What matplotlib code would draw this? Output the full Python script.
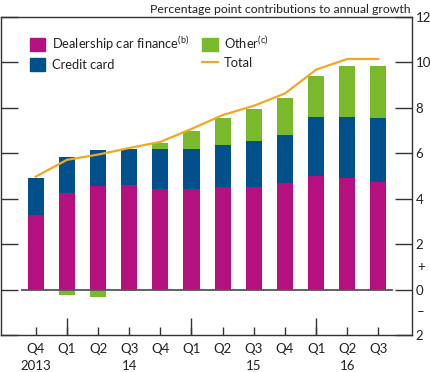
"""Consumer credit growth contributions: stacked bars with total line"""

import matplotlib
matplotlib.use("Agg")
import matplotlib.pyplot as plt
from matplotlib.patches import Patch
from matplotlib.lines import Line2D

quarters = ["Q4", "Q1", "Q2", "Q3", "Q4", "Q1", "Q2", "Q3", "Q4", "Q1", "Q2", "Q3"]
years = {0: "2013", 3: "14", 7: "15", 10: "16"}

dealership = [3.29, 4.25, 4.57, 4.60, 4.43, 4.43, 4.50, 4.50, 4.68, 4.99, 4.90, 4.72]
credit_card = [1.63, 1.59, 1.56, 1.60, 1.74, 1.74, 1.88, 2.04, 2.12, 2.59, 2.68, 2.85]
other = [0.0, -0.25, -0.32, -0.08, 0.30, 0.79, 1.19, 1.39, 1.63, 1.81, 2.25, 2.29]
total = [4.97, 5.71, 5.94, 6.23, 6.50, 7.07, 7.68, 8.09, 8.63, 9.68, 10.15, 10.15]

MAGENTA = "#B5107F"
BLUE = "#00508C"
GREEN = "#79B92B"
ORANGE = "#F2A922"
TXT = "#222222"

plt.rcParams["font.family"] = ["Lato", "DejaVu Sans"]
plt.rcParams["mathtext.fontset"] = "custom"
plt.rcParams["mathtext.rm"] = "Lato"

fig = plt.figure(figsize=(4.31, 3.72), dpi=100)
ax = fig.add_axes([0.002, 0.0995, 0.954, 0.855])

x = list(range(len(quarters)))
w = 0.52
blue_top = [d + c for d, c in zip(dealership, credit_card)]
other_bottom = [bt if o >= 0 else 0 for bt, o in zip(blue_top, other)]

ax.bar(x, dealership, w, color=MAGENTA, zorder=2)
ax.bar(x, credit_card, w, bottom=dealership, color=BLUE, zorder=2)
ax.bar(x, other, w, bottom=other_bottom, color=GREEN, zorder=2)
ax.plot(x, total, color=ORANGE, lw=1.6, zorder=3)

ax.hlines(0, -0.48, 11.47, color="#555555", lw=1.3, zorder=4)

ax.set_xlim(-1.12, 12.08)
ax.set_ylim(-2, 12)

# y axis: ticks inside, labels on the right
ax.set_yticks(range(-2, 13, 2))
ax.set_yticklabels(["2", "0", "2", "4", "6", "8", "10", "12"])
ax.tick_params(axis="y", left=True, right=True, labelleft=False, labelright=True,
               direction="in", length=12, width=1, color="#333333",
               labelsize=9.5, labelcolor=TXT, pad=2.5)
trans = ax.get_yaxis_transform()
ax.text(1.012, 1, "+", transform=trans, ha="left", va="center", fontsize=9.5, color=TXT)
ax.text(1.012, -1, "–", transform=trans, ha="left", va="center", fontsize=9.5, color=TXT)

# x axis: short ticks every quarter, long ticks at Q1
labels = [q + ("\n" + years[i] if i in years else "") for i, q in enumerate(quarters)]
ax.set_xticks(x)
ax.set_xticklabels(labels, linespacing=1.5, va="top")
ax.set_xticks([1, 5, 9], minor=True)
ax.xaxis.remove_overlapping_locs = False
ax.tick_params(axis="x", which="major", direction="in", length=6, width=1,
               color="#333333", labelsize=9.5, labelcolor=TXT, pad=6)
ax.tick_params(axis="x", which="minor", direction="in", length=12, width=1,
               color="#333333")

for s in ax.spines.values():
    s.set_color("#333333")
    s.set_linewidth(1)

handles = [
    Patch(color=MAGENTA, label="Dealership car finance$^{\\rm (b)}$"),
    Patch(color=BLUE, label="Credit card"),
    Patch(color=GREEN, label="Other$^{\\rm (c)}$"),
    Line2D([], [], color=ORANGE, lw=1.6, label="Total"),
]
leg = ax.legend(handles=handles, ncol=2, loc="upper left", bbox_to_anchor=(0.058, 0.962),
                frameon=False, fontsize=9.3, handlelength=1.2, handleheight=1.2,
                handletextpad=0.5, columnspacing=1.0, labelspacing=0.4,
                borderaxespad=0)
for t in leg.get_texts():
    t.set_color(TXT)

fig.text(0.952, 0.99, "Percentage point contributions to annual growth",
         ha="right", va="top", fontsize=8.8, color=TXT)

fig.savefig("out.png", dpi=100)
